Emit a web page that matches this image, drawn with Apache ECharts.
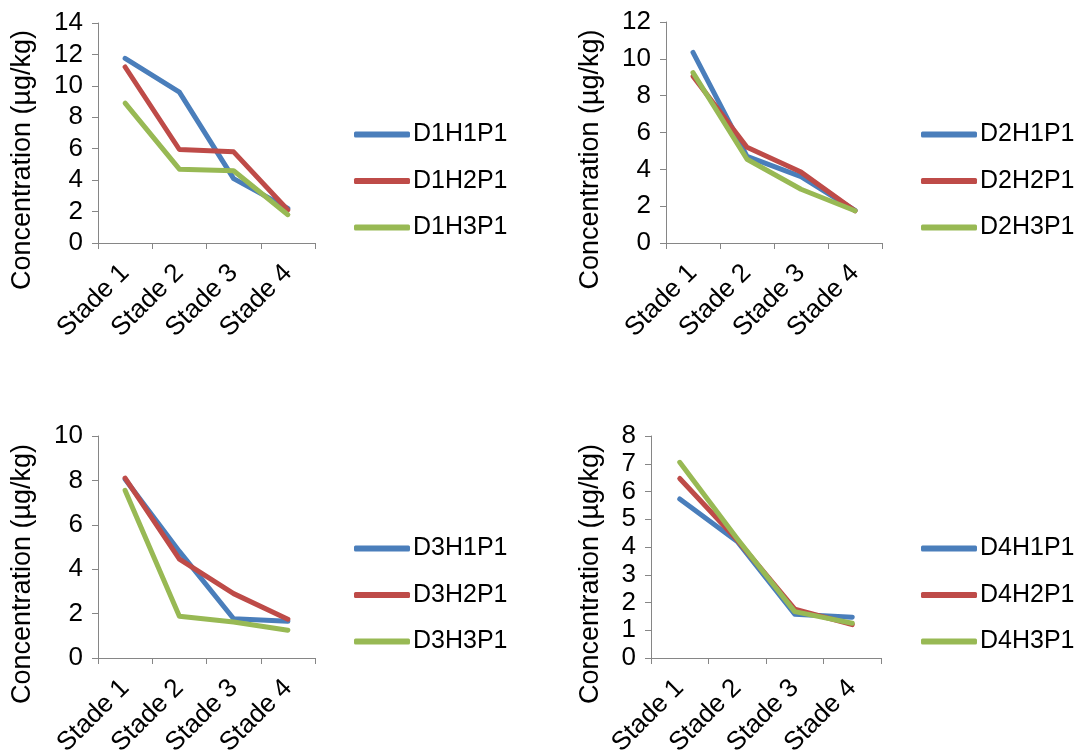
<!DOCTYPE html>
<html><head><meta charset="utf-8">
<script src="https://cdn.jsdelivr.net/npm/echarts@6/dist/echarts.min.js"></script>
<style>html,body{margin:0;padding:0;background:#fff}#c{width:1081px;height:754px}</style>
</head><body><div id="c"></div>
<script>
const categories = ['Stade 1', 'Stade 2', 'Stade 3', 'Stade 4'];
const yTitle = 'Concentration (µg/kg)';

const d1Names = ['D1H1P1', 'D1H2P1', 'D1H3P1'];
const d1H1 = [11.75, 9.6, 4.1, 2.2];
const d1H2 = [11.2, 5.95, 5.8, 2.1];
const d1H3 = [8.9, 4.7, 4.6, 1.8];

const d2Names = ['D2H1P1', 'D2H2P1', 'D2H3P1'];
const d2H1 = [10.35, 4.7, 3.6, 1.77];
const d2H2 = [9.05, 5.2, 3.85, 1.75];
const d2H3 = [9.25, 4.55, 2.92, 1.75];

const d3Names = ['D3H1P1', 'D3H2P1', 'D3H3P1'];
const d3H1 = [8.05, 4.8, 1.77, 1.65];
const d3H2 = [8.1, 4.45, 2.9, 1.75];
const d3H3 = [7.55, 1.88, 1.62, 1.25];

const d4Names = ['D4H1P1', 'D4H2P1', 'D4H3P1'];
const d4H1 = [5.73, 4.2, 1.58, 1.47];
const d4H2 = [6.47, 4.25, 1.76, 1.2];
const d4H3 = [7.05, 4.3, 1.67, 1.25];

const yMax = [14, 12, 10, 8];
const yInterval = [2, 2, 2, 1];

const colors = ['#4A7EBB', '#BE4B48', '#98B954'];
const FONT = '"Liberation Sans", Arial, sans-serif';

const panels = [
  { names: d1Names, data: [d1H1, d1H2, d1H3], grid: { left: 98, top: 23, width: 217, height: 220 }, legend: { left: 354, top: 122 }, nameGap: 62 },
  { names: d2Names, data: [d2H1, d2H2, d2H3], grid: { left: 666, top: 22, width: 216, height: 221 }, legend: { left: 921, top: 122 }, nameGap: 62 },
  { names: d3Names, data: [d3H1, d3H2, d3H3], grid: { left: 98, top: 436, width: 217, height: 222 }, legend: { left: 354, top: 536 }, nameGap: 62 },
  { names: d4Names, data: [d4H1, d4H2, d4H3], grid: { left: 651, top: 436, width: 230, height: 222 }, legend: { left: 921, top: 536 }, nameGap: 47 }
];

const axisColor = '#868686';
const option = {
  animation: false,
  backgroundColor: '#fff',
  color: colors,
  textStyle: { fontFamily: FONT },
  grid: panels.map(p => Object.assign({ containLabel: false, outerBoundsMode: 'none' }, p.grid)),
  legend: panels.map(p => ({
    orient: 'vertical', left: p.legend.left, top: p.legend.top, padding: 0,
    itemWidth: 56, itemHeight: 6, itemGap: 21.5, icon: 'roundRect',
    textStyle: { fontSize: 25, color: '#000', fontFamily: FONT, padding: [0, 0, 0, -2] },
    data: p.names
  })),
  xAxis: panels.map((p, i) => ({
    type: 'category', gridIndex: i, data: categories, boundaryGap: true,
    axisLine: { show: true, lineStyle: { color: axisColor, width: 1 } },
    axisTick: { show: true, length: 6, lineStyle: { color: axisColor } },
    axisLabel: { rotate: 45, fontSize: 26, color: '#000', margin: 26, fontFamily: FONT, interval: 0 },
    splitLine: { show: false }
  })),
  yAxis: panels.map((p, i) => ({
    type: 'value', gridIndex: i, min: 0, max: yMax[i], interval: yInterval[i],
    axisLine: { show: true, lineStyle: { color: axisColor, width: 1 } },
    axisTick: { show: true, length: 6, lineStyle: { color: axisColor } },
    axisLabel: { fontSize: 26, color: '#000', margin: 15, fontFamily: FONT },
    splitLine: { show: false },
    name: yTitle, nameLocation: 'middle', nameRotate: 90, nameGap: p.nameGap,
    nameTextStyle: { fontSize: 27, color: '#000', fontFamily: FONT, padding: [0, 54, 0, 0] }
  })),
  series: []
};
panels.forEach((p, i) => {
  p.names.forEach((n, k) => {
    option.series.push({
      type: 'line', name: n, xAxisIndex: i, yAxisIndex: i, data: p.data[k],
      showSymbol: false, symbol: 'none', color: colors[k],
      lineStyle: { width: 5, color: colors[k], cap: 'round', join: 'round' }
    });
  });
});
const chart = echarts.init(document.getElementById('c'), null, { renderer: 'canvas' });
chart.setOption(option);
</script>
</body></html>
